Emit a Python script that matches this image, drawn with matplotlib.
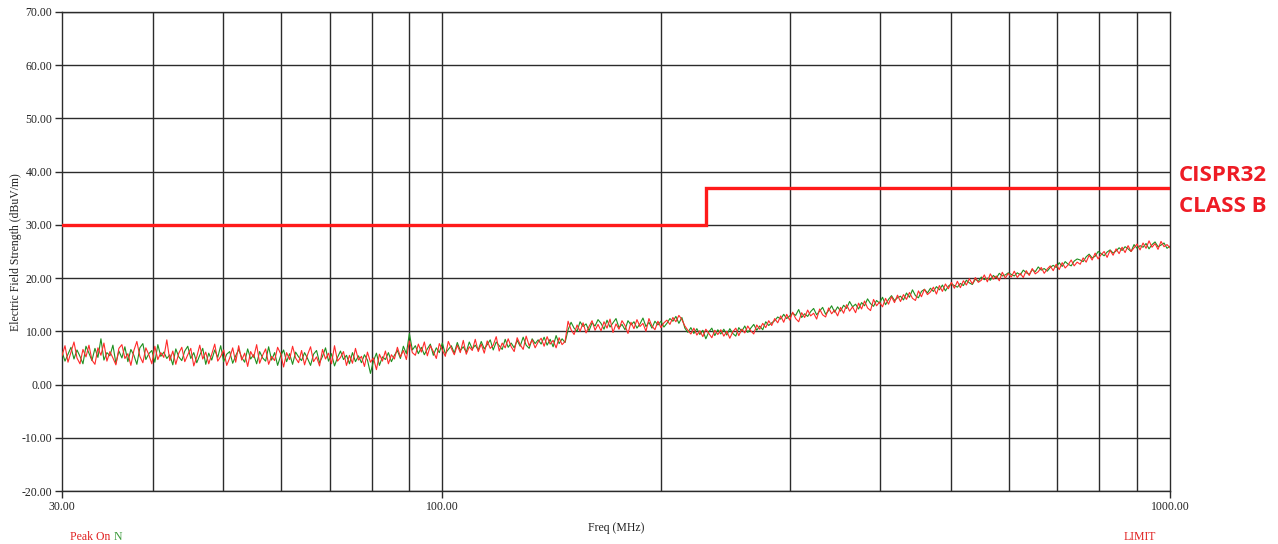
import numpy as np
import matplotlib
matplotlib.use("Agg")
import matplotlib.pyplot as plt
from matplotlib.ticker import FixedLocator, NullFormatter

# ---------------- data ----------------
x_ticks = [30, 100, 1000]
x_tick_labels = ["30.00", "100.00", "1000.00"]
y_ticks = [-20, -10, 0, 10, 20, 30, 40, 50, 60, 70]
x_minor_grid = [40, 50, 60, 70, 80, 90, 200, 300, 400, 500, 600, 700, 800, 900]

limit_freq = [30, 230, 230, 1000]
limit_level = [30, 30, 37, 37]

peak_red = [
    5.4, 7.3, 4.2, 6.1, 8.0, 5.0, 3.9, 6.6, 5.2, 7.4, 4.6, 3.8, 6.9, 5.5, 7.8, 4.4, 6.2, 5.0, 3.7, 6.8,
    7.5, 4.9, 5.8, 3.6, 6.4, 8.1, 5.3, 4.1, 6.9, 5.6, 3.9, 7.2, 4.7, 6.0, 5.1, 8.4, 4.5, 6.3, 3.8, 5.9,
    7.0, 4.3, 5.6, 6.8, 3.5, 5.2, 7.4, 4.8, 6.1, 3.9, 5.7, 7.6, 4.4, 5.3, 6.5, 3.6, 5.0, 6.9, 4.2, 7.3,
    4.6, 5.9, 3.4, 6.2, 5.1, 7.5, 4.0, 5.5, 6.7, 3.8, 5.3, 4.5, 7.0, 5.8, 3.3, 6.0, 4.7, 7.2, 5.0, 4.1,
    6.4, 3.7, 5.6, 7.1, 4.3, 5.2, 3.5, 6.6, 4.8, 5.9, 3.9, 7.3, 4.4, 5.1, 6.2, 3.6, 5.5, 4.0, 6.8, 4.6,
    5.3, 3.4, 6.1, 4.2, 5.0, 2.8, 5.7, 4.4, 6.3, 3.9, 5.6, 4.8, 7.0, 5.2, 6.4, 4.7, 8.2, 6.0, 5.5, 7.6,
    6.1, 8.0, 5.4, 7.3, 6.2, 4.9, 7.7, 6.5, 5.3, 8.1, 6.8, 5.6, 7.4, 6.0, 8.3, 5.7, 7.1, 6.4, 8.5, 6.2,
    7.6, 5.9, 8.2, 6.8, 7.4, 9.0, 6.3, 7.8, 6.9, 8.6, 7.1, 6.2, 8.8, 7.5, 6.6, 9.1, 7.3, 8.4, 6.9, 8.0,
    8.7, 7.2, 9.0, 7.6, 8.3, 6.9, 8.8, 7.5, 8.1, 11.9, 10.3, 9.4, 11.2, 10.0, 11.6, 9.7, 10.9, 12.0, 10.2, 11.3,
    10.1, 11.8, 10.6, 12.3, 9.8, 11.4, 10.4, 12.0, 11.1, 9.6, 11.7, 10.5, 12.2, 10.9, 11.5, 10.0, 12.4, 11.0, 10.3, 11.9,
    10.7, 11.6, 12.1, 11.3, 12.6, 11.8, 13.0, 12.2, 11.0, 10.2, 9.5, 10.6, 9.3, 10.1, 9.0, 10.4, 9.6, 8.8, 10.2, 9.4,
    10.3, 9.1, 10.0, 8.7, 9.9, 10.6, 9.2, 10.4, 9.7, 11.0, 10.1, 9.5, 11.2, 10.4, 11.5, 10.7, 12.0, 11.1, 12.4, 11.6,
    12.9, 11.7, 13.2, 12.1, 13.6, 12.4, 11.8, 13.5, 12.6, 14.0, 12.9, 13.4, 12.3, 14.2, 13.1, 12.7, 14.4, 13.3, 14.0, 12.9,
    14.5, 13.4, 15.0, 13.8, 14.6, 13.5, 15.3, 14.2, 15.7, 14.4, 13.9, 16.0, 14.8, 15.5, 14.6, 16.2, 15.1, 16.5, 15.4, 16.8,
    15.6, 16.9, 16.0, 17.3, 16.2, 15.8, 17.6, 16.5, 17.9, 16.9, 17.4, 18.3, 17.0, 18.6, 17.5, 18.9, 18.0, 19.2, 18.1, 19.4,
    18.2, 19.5, 18.7, 19.9, 18.9, 20.1, 19.2, 19.6, 20.6, 19.3, 20.8, 19.8, 20.4, 19.5, 21.1, 20.0, 20.9, 20.2, 21.3, 20.1,
    20.9, 20.1, 21.4, 20.5, 21.8, 20.8, 21.2, 22.0, 20.9, 21.7, 22.3, 21.4, 22.6, 21.6, 22.9, 21.9, 22.5, 23.4, 22.3, 23.0,
    22.6, 23.8, 23.0, 24.3, 23.4, 24.7, 23.6, 24.4, 25.0, 23.9, 25.2, 24.3, 25.5, 24.6, 25.8, 24.8, 26.1, 25.0, 25.7, 26.4,
    25.3, 26.6, 25.6, 27.0, 25.8, 26.5, 25.4, 26.9, 25.9, 26.3, 25.7,
]

peak_green = [
    6.2, 4.4, 5.7, 7.0, 4.8, 6.5, 5.3, 3.9, 7.2, 5.9, 4.5, 6.8, 5.1, 8.6, 4.6, 6.0, 5.4, 7.4, 4.0, 6.3,
    5.0, 7.1, 4.3, 6.6, 5.5, 3.8, 6.9, 7.7, 4.7, 5.8, 6.4, 4.2, 7.5, 5.3, 6.1, 4.9, 5.6, 3.7, 6.7, 5.2,
    4.5, 6.3, 7.2, 4.9, 6.0, 4.1, 5.5, 6.8, 3.8, 5.9, 4.6, 6.5, 5.1, 7.3, 4.3, 5.7, 6.2, 4.0, 5.4, 6.6,
    5.1, 4.2, 6.7, 4.8, 5.6, 3.9, 6.2, 5.0, 4.4, 7.1, 4.6, 6.0, 3.6, 5.4, 6.5, 4.3, 5.8, 3.8, 6.1, 5.2,
    4.5, 6.0, 4.9, 3.6, 5.7, 6.4, 4.1, 5.3, 6.9, 4.4, 5.8, 3.5, 5.1, 6.3, 4.7, 5.5, 3.9, 6.0, 4.3, 5.4,
    4.1, 5.6, 4.6, 2.1, 4.4, 5.9, 3.6, 5.2, 4.7, 6.0, 4.3, 5.5, 6.4, 4.9, 7.2, 5.8, 9.6, 6.5, 7.3, 5.8,
    7.0, 5.6, 6.7, 7.6, 5.5, 6.9, 6.0, 7.8, 5.8, 6.6, 7.3, 5.9, 7.9, 6.4, 7.1, 6.1, 8.0, 6.7, 7.4, 6.5,
    8.1, 6.7, 7.5, 8.4, 6.5, 8.0, 7.3, 6.6, 8.5, 7.0, 7.8, 6.9, 8.3, 7.2, 8.9, 7.4, 6.8, 8.6, 7.7, 8.4,
    7.6, 8.9, 7.4, 8.5, 7.1, 9.2, 7.7, 8.6, 7.9, 10.3, 11.7, 10.6, 10.0, 11.8, 10.9, 11.4, 10.1, 11.6, 11.0, 12.2,
    11.5, 10.4, 12.1, 10.8, 11.6, 12.4, 10.7, 11.3, 10.3, 12.0, 11.2, 11.8, 10.6, 11.4, 12.5, 10.9, 11.7, 10.6, 11.9, 11.2,
    11.9, 10.8, 11.5, 12.4, 11.9, 12.8, 11.5, 12.6, 10.6, 9.8, 10.7, 9.6, 10.5, 9.4, 10.2, 8.6, 9.9, 10.6, 9.2, 10.3,
    9.5, 10.4, 9.3, 10.5, 9.6, 9.1, 10.7, 10.0, 11.0, 9.8, 10.6, 11.3, 10.2, 11.0, 10.3, 11.8, 11.1, 11.6, 12.0, 12.7,
    12.3, 13.2, 12.4, 12.9, 13.4, 13.0, 14.1, 12.6, 13.3, 12.8, 13.7, 14.3, 13.1, 13.8, 14.5, 13.2, 13.9, 14.8, 13.6, 14.6,
    13.8, 14.9, 14.3, 15.6, 14.6, 15.1, 14.2, 15.4, 14.8, 16.1, 15.2, 14.7, 15.8, 15.3, 16.4, 15.0, 16.0, 16.7, 15.8, 16.3,
    16.6, 15.9, 17.2, 16.4, 17.8, 16.7, 16.3, 17.5, 17.9, 17.2, 18.1, 17.5, 18.4, 17.8, 18.7, 17.6, 18.5, 18.9, 18.6, 18.3,
    19.0, 18.6, 19.6, 19.1, 18.8, 19.8, 19.4, 20.2, 19.7, 20.0, 19.6, 20.5, 20.0, 20.9, 20.4, 20.6, 21.0, 20.7, 20.4, 21.0,
    20.6, 21.5, 21.0, 20.7, 21.6, 21.2, 22.1, 21.5, 21.8, 21.3, 22.0, 22.4, 22.0, 22.9, 22.2, 23.1, 22.6, 22.3, 23.2, 23.6,
    23.4, 23.1, 24.0, 24.5, 23.8, 24.1, 25.0, 24.6, 24.2, 24.9, 25.3, 24.7, 25.1, 25.7, 25.2, 25.9, 25.5, 25.0, 26.3, 25.6,
    26.1, 25.8, 26.5, 25.5, 26.3, 26.8, 25.9, 26.2, 26.6, 25.6, 26.0,
]

# sweep frequencies (log-spaced receiver sweep points)
freq_red = np.geomspace(30, 1000, len(peak_red))
freq_green = np.geomspace(30, 1000, len(peak_green))

# ---------------- figure ----------------
W, H = 1278, 544
fig = plt.figure(figsize=(W / 100, H / 100), dpi=100)
ax = fig.add_axes([62 / W, 1 - 491 / H, (1170 - 62) / W, (491 - 12) / H])

serif = ["Liberation Serif", "DejaVu Serif"]

ax.set_xscale("log")
ax.set_xlim(30, 1000)
ax.set_ylim(-20, 70)

grid_color = "#2b2b2b"
for yv in y_ticks:
    ax.axhline(yv, color=grid_color, lw=1.0, zorder=1)
for xv in x_minor_grid + [100]:
    ax.axvline(xv, color=grid_color, lw=1.0, zorder=1)

ax.plot(freq_green, peak_green, color="#1f8f1f", lw=0.8, zorder=3)
ax.plot(freq_red, peak_red, color="#ff2a2a", lw=0.8, zorder=4)
ax.plot(limit_freq, limit_level, color="#ff1a1a", lw=2.4, zorder=5,
        solid_joinstyle="miter")

ax.xaxis.set_major_locator(FixedLocator(x_ticks))
ax.xaxis.set_minor_locator(FixedLocator([]))
ax.xaxis.set_minor_formatter(NullFormatter())
ax.set_xticklabels(x_tick_labels)
ax.set_yticks(y_ticks)
ax.set_yticklabels([f"{v:.2f}" for v in y_ticks])

ax.tick_params(axis="both", direction="out", length=5, width=1.0,
               color=grid_color, labelsize=8.5, pad=2)
for lbl in ax.get_xticklabels() + ax.get_yticklabels():
    lbl.set_fontfamily(serif)
    lbl.set_color("#222222")

for sp in ax.spines.values():
    sp.set_color(grid_color)
    sp.set_linewidth(1.0)

ax.set_ylabel("Electric Field Strength (dBuV/m)", fontfamily=serif,
              fontsize=8.5, color="#222222")
ax.yaxis.set_label_coords(-0.036, 0.498)
ax.set_xlabel("Freq (MHz)", fontfamily=serif, fontsize=8.5,
              color="#222222", labelpad=7)

t1 = fig.text(70 / W, 1 - 537 / H, "Peak On ", fontfamily=serif, fontsize=8.5,
              color="#e02020", va="center", ha="left")
fig.canvas.draw()
bb = t1.get_window_extent()
fig.text(bb.x1 / W, 1 - 537 / H, "N", fontfamily=serif, fontsize=8.5,
         color="#3a9a3a", va="center", ha="left")
fig.text(1124 / W, 1 - 537 / H, "LIMIT", fontfamily=serif, fontsize=8.5,
         color="#e02020", va="center", ha="left")

fig.text(1179 / W, 1 - 175 / H, "CISPR32", fontfamily="Open Sans",
         fontweight="bold", fontsize=16, color="#ee1c25", va="center", ha="left")
fig.text(1179 / W, 1 - 207 / H, "CLASS B", fontfamily="Open Sans",
         fontweight="bold", fontsize=16, color="#ee1c25", va="center", ha="left")

fig.savefig("out.png", dpi=100, facecolor="white")
